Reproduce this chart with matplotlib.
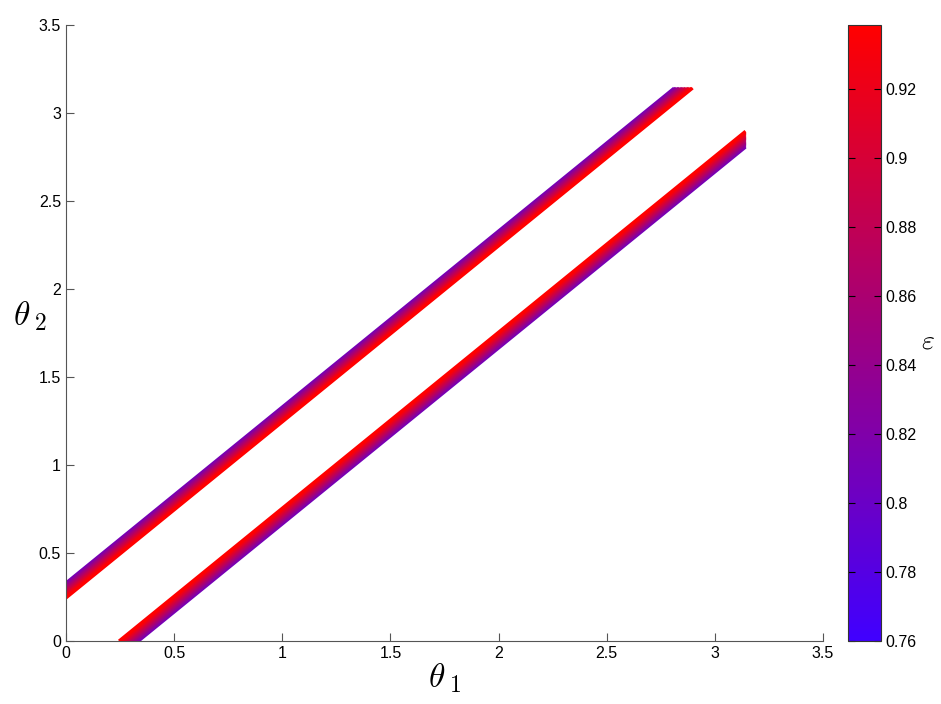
import numpy as np
import matplotlib.pyplot as plt
from matplotlib.colors import LinearSegmentedColormap, Normalize
from matplotlib.cm import ScalarMappable

plt.rcParams['font.family'] = ['Liberation Sans', 'DejaVu Sans']
plt.rcParams['mathtext.fontset'] = 'cm'

# epsilon of each line and its offset from the diagonal (theta2 = theta1 +/- c)
eps_levels = [0.810, 0.820, 0.830, 0.840, 0.850, 0.860, 0.870, 0.880, 0.890, 0.900, 0.910, 0.920, 0.930, 0.938]
upper_offsets = [0.330, 0.323, 0.317, 0.310, 0.304, 0.297, 0.290, 0.284, 0.277, 0.270, 0.263, 0.257, 0.250, 0.244]
lower_offsets = [0.336, 0.329, 0.322, 0.315, 0.308, 0.301, 0.294, 0.287, 0.280, 0.273, 0.266, 0.259, 0.252, 0.245]
eps_min, eps_max = 0.76, 0.9386
cbar_ticks = [0.76, 0.78, 0.8, 0.82, 0.84, 0.86, 0.88, 0.9, 0.92]
axis_ticks = [0, 0.5, 1, 1.5, 2, 2.5, 3, 3.5]

cmap = LinearSegmentedColormap.from_list('br', [(0.25, 0.0, 1.0), (1.0, 0.0, 0.0)])
norm = Normalize(eps_min, eps_max)

fig = plt.figure(figsize=(9.41, 7.04), dpi=100)
ax = fig.add_axes([0.0701, 0.0895, 0.8045, 0.875])

# draw blue lines first so red ends up on top
for e, cu, cl in zip(eps_levels, upper_offsets, lower_offsets):
    col = cmap(norm(e))
    ax.plot([0, np.pi - cu], [cu, np.pi], color=col, lw=2.2, solid_capstyle='butt')
    ax.plot([cl, np.pi], [0, np.pi - cl], color=col, lw=2.2, solid_capstyle='butt')

ax.set_xlim(0, 3.5)
ax.set_ylim(0, 3.5)
ax.set_xticks(axis_ticks)
ax.set_yticks(axis_ticks)
ax.set_xticklabels(['0', '0.5', '1', '1.5', '2', '2.5', '3', '3.5'])
ax.set_yticklabels(['0', '0.5', '1', '1.5', '2', '2.5', '3', '3.5'])
ax.tick_params(direction='in', length=6, labelsize=11.5, color='#555555')
ax.spines['top'].set_visible(False)
ax.spines['right'].set_visible(False)
for s in ['left', 'bottom']:
    ax.spines[s].set_color('#555555')
ax.set_xlabel(r'$\theta_{\;1}$', fontsize=24, labelpad=0)
ax.set_ylabel(r'$\theta_{\;2}$', fontsize=24, rotation=0)
ax.yaxis.set_label_coords(-0.048, 0.5)

cax = fig.add_axes([0.9012, 0.0895, 0.035, 0.875])
sm = ScalarMappable(norm=norm, cmap=cmap)
cb = fig.colorbar(sm, cax=cax, ticks=cbar_ticks)
cb.ax.set_yticklabels(['0.76', '0.78', '0.8', '0.82', '0.84', '0.86', '0.88', '0.9', '0.92'])
cb.ax.tick_params(direction='in', length=5, labelsize=11.5, left=True, right=True)
cb.outline.set_color('#333333')
fig.text(0.986, 0.515, r'$\varepsilon$', fontsize=20, ha='center', va='center')

fig.savefig('out.png', dpi=100)
